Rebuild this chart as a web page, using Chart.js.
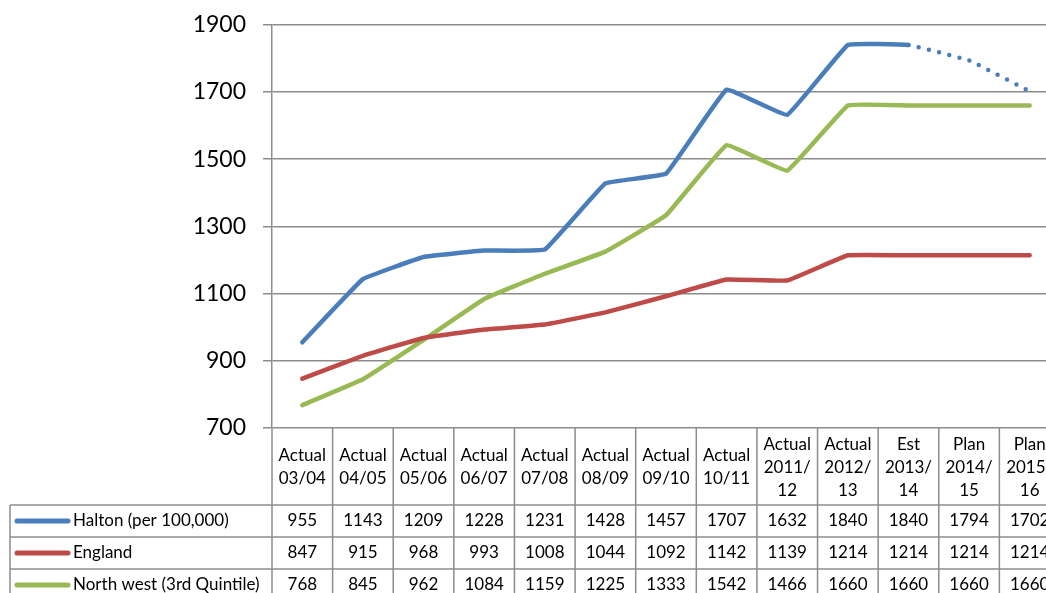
<!DOCTYPE html>
<html>
<head>
<meta charset="utf-8">
<script src="https://cdn.jsdelivr.net/npm/chart.js@4"></script>
<style>
  body { margin: 0; overflow: hidden; background: #fff; }
  #wrap { width: 1060px; height: 599px; margin-top: -6px; }
</style>
</head>
<body>
<div id="wrap"><canvas id="rateChart"></canvas></div>
<script>
const categories = [
    ["Actual", "03/04"], ["Actual", "04/05"], ["Actual", "05/06"], ["Actual", "06/07"],
    ["Actual", "07/08"], ["Actual", "08/09"], ["Actual", "09/10"], ["Actual", "10/11"],
    ["Actual", "2011/", "12"], ["Actual", "2012/", "13"], ["Est", "2013/", "14"],
    ["Plan", "2014/", "15"], ["Plan", "2015/", "16"]
];
const halton = [955, 1143, 1209, 1228, 1231, 1428, 1457, 1707, 1632, 1840, 1840, 1794, 1702];
const england = [847, 915, 968, 993, 1008, 1044, 1092, 1142, 1139, 1214, 1214, 1214, 1214];
const northWest = [768, 845, 962, 1084, 1159, 1225, 1333, 1542, 1466, 1660, 1660, 1660, 1660];
const yTicks = [700, 900, 1100, 1300, 1500, 1700, 1900];

const FONT = 'Lato, "Liberation Sans", sans-serif';
const GRID = '#8c8c8c';

// data table under the plot, columns taken from the x scale
const dataTable = {
    id: 'dataTable',
    afterDraw(chart) {
        const c = chart.ctx;
        const x = chart.scales.x;
        const area = chart.chartArea;
        const colW = x.width / categories.length;
        const headTop = area.bottom;
        const headBottom = area.bottom + 77;
        const rowH = 32;
        const left = 10;
        const rows = chart.data.datasets;

        c.save();
        c.strokeStyle = GRID;
        c.lineWidth = 1.5;
        // column lines
        for (let i = 0; i <= categories.length; i++) {
            const px = x.left + i * colW;
            c.beginPath();
            c.moveTo(px, headTop);
            c.lineTo(px, headBottom + rowH * rows.length);
            c.stroke();
        }
        // row lines
        for (let r = 0; r <= rows.length; r++) {
            const py = headBottom + r * rowH;
            c.beginPath();
            c.moveTo(left, py);
            c.lineTo(x.right, py);
            c.stroke();
        }
        c.beginPath();
        c.moveTo(left, headBottom);
        c.lineTo(left, headBottom + rowH * rows.length);
        c.stroke();

        c.fillStyle = '#000';
        c.font = '17px ' + FONT;
        c.textAlign = 'center';
        c.textBaseline = 'middle';
        const lh = 23;
        const mid = (headTop + headBottom) / 2 + 1;
        categories.forEach((lines, i) => {
            const cx = x.getPixelForValue(i);
            const start = mid - (lines.length - 1) * lh / 2;
            lines.forEach((t, k) => c.fillText(t, cx, start + k * lh));
        });

        rows.forEach((ds, r) => {
            const cy = headBottom + r * rowH + rowH / 2;
            c.strokeStyle = ds.borderColor;
            c.lineWidth = 5;
            c.lineCap = 'round';
            c.beginPath();
            c.moveTo(17, cy);
            c.lineTo(68, cy);
            c.stroke();
            c.textAlign = 'left';
            c.fillText(ds.label, 73, cy);
            c.textAlign = 'center';
            ds.data.forEach((v, i) => c.fillText(String(v), x.getPixelForValue(i), cy));
        });
        c.restore();
    }
};

const ctx = document.getElementById('rateChart').getContext('2d');

let myChart = new Chart(ctx, {
    type: 'line',
    data: {
        labels: categories.map(l => l.join(' ')),
        datasets: [{
            label: 'Halton (per 100,000)',
            data: halton,
            borderColor: '#4a7ebb',
            segment: {
                borderDash: s => s.p0DataIndex >= 10 ? [0, 10.5] : undefined
            }
        }, {
            label: 'England',
            data: england,
            borderColor: '#be4b48'
        }, {
            label: 'North west (3rd Quintile)',
            data: northWest,
            borderColor: '#98b954'
        }]
    },
    options: {
        responsive: true,
        maintainAspectRatio: false,
        animation: false,
        layout: { padding: { top: 6, bottom: 165, left: 0, right: 0 } },
        elements: {
            line: { borderWidth: 4.5, tension: 0.07, borderCapStyle: 'round', borderJoinStyle: 'round', fill: false },
            point: { radius: 0, hoverRadius: 0 }
        },
        plugins: { legend: { display: false }, tooltip: { enabled: false } },
        scales: {
            x: { display: false, offset: true },
            y: {
                min: 700,
                max: 1900,
                afterBuildTicks: s => { s.ticks = yTicks.map(v => ({ value: v })); },
                afterFit: s => { s.width = 272; },
                ticks: { color: '#000', font: { family: FONT, size: 23 }, padding: 17, callback: v => String(v) },
                grid: { color: GRID, lineWidth: 1.5, tickLength: 9 },
                border: { color: GRID, width: 1.5 }
            }
        }
    },
    plugins: [dataTable]
});
</script>
</body>
</html>
